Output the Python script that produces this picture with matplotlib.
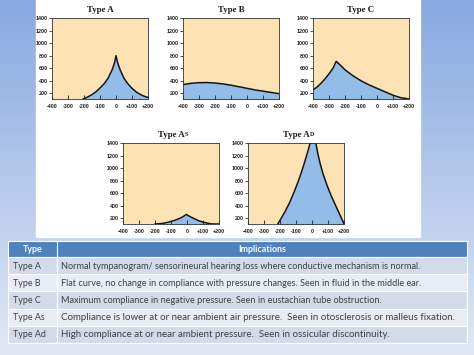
import numpy as np
import matplotlib.pyplot as plt
from matplotlib.patches import Rectangle

W, H = 474, 355

pressure_ticks = [-400, -300, -200, -100, 0, 100, 200]
pressure_labels = ['-400', '-300', '-200', '-100', '0', '+100', '+200']
compliance_ticks = [200, 400, 600, 800, 1000, 1200, 1400]

# tympanogram curves: pressure (daPa) vs compliance
type_a_x = [-205, -175, -150, -125, -100, -75, -50, -25, -10, 0, 10, 25, 50, 75, 100, 125, 150, 175, 200]
type_a_y = [110, 145, 180, 225, 285, 350, 440, 570, 680, 800, 690, 580, 440, 350, 280, 225, 185, 155, 135]

type_b_x = [-400, -350, -300, -250, -200, -150, -100, -50, 0, 50, 100, 150, 200]
type_b_y = [340, 360, 370, 372, 365, 350, 330, 305, 280, 255, 235, 215, 195]

type_c_x = [-400, -375, -350, -325, -300, -275, -255, -225, -200, -150, -100, -50, 0, 50, 100, 150, 200]
type_c_y = [255, 300, 360, 430, 510, 600, 710, 640, 575, 480, 400, 335, 280, 225, 170, 130, 110]

type_as_x = [-200, -150, -100, -75, -50, -25, -5, 25, 50, 75, 100, 125, 150, 175, 200]
type_as_y = [110, 120, 150, 170, 195, 225, 262, 220, 190, 160, 140, 125, 112, 110, 110]

type_ad_x = [-214, -195, -170, -140, -110, -80, -55, -35, -20, -12, 24, 35, 50, 70, 95, 120, 145, 170, 200]
type_ad_y = [110, 190, 300, 450, 630, 830, 1020, 1190, 1320, 1400, 1400, 1250, 1080, 900, 720, 560, 420, 280, 115]

table_types = ['Type A', 'Type B', 'Type C', 'Type As', 'Type Ad']
table_implications = [
    'Normal tympanogram/ sensorineural hearing loss where conductive mechanism is normal.',
    'Flat curve, no change in compliance with pressure changes. Seen in fluid in the middle ear.',
    'Maximum compliance in negative pressure. Seen in eustachian tube obstruction.',
    'Compliance is lower at or near ambient air pressure.  Seen in otosclerosis or malleus fixation.',
    'High compliance at or near ambient pressure.  Seen in ossicular discontinuity.',
]

PEACH = '#fde3b4'
BLUE = '#93bde8'
TICK_FONT = 'Liberation Sans'
TABLE_FONT = 'Lato'


def frac(x, y, w, h):
    # pixel box (top-left origin) -> figure fraction rect
    return [x / W, 1 - (y + h) / H, w / W, h / H]


fig = plt.figure(figsize=(W / 100, H / 100), dpi=100)

# slide background: blue gradient with a white panel behind the charts
bg = fig.add_axes([0, 0, 1, 1])
top = np.array([0.53, 0.66, 0.88])
bot = np.array([0.88, 0.91, 0.96])
t = np.linspace(0, 1, 256)[:, None]
grad = top * (1 - t) + bot * t
bg.imshow(np.repeat(grad[:, None, :], 2, axis=1), aspect='auto', extent=[0, W, H, 0])
bg.add_patch(Rectangle((36, 0), 384, 237, color='white'))
bg.set_xlim(0, W)
bg.set_ylim(H, 0)
bg.axis('off')


def tymp(box, xs, ys, title, small=None):
    ax = fig.add_axes(frac(*box))
    ax.set_facecolor(PEACH)
    ax.fill_between(xs, ys, 0, color=BLUE, lw=0, zorder=1)
    ax.plot(xs, ys, color='#151515', lw=1.1, zorder=3)
    ax.set_xlim(-400, 200)
    ax.set_ylim(110, 1400)
    ax.set_xticks(pressure_ticks)
    ax.set_xticklabels(pressure_labels)
    ax.set_yticks(compliance_ticks)
    ax.tick_params(axis='x', direction='in', length=3, width=0.7, pad=3.8,
                   labelsize=3.9, color='#333333', zorder=4)
    ax.tick_params(axis='y', direction='out', length=2.5, width=0.6, pad=0.6,
                   labelsize=3.9, color='#333333')
    for lab in ax.get_xticklabels() + ax.get_yticklabels():
        lab.set_fontweight('bold')
        lab.set_family(TICK_FONT)
        lab.set_color('#222222')
    for s in ax.spines.values():
        s.set_linewidth(0.6)
        s.set_color('#333333')
        s.set_zorder(5)
    tt = ax.set_title(title, fontsize=6.4, fontweight='bold', family='Liberation Serif',
                      pad=4.2, color='#1a1a1a')
    if small:
        ax.annotate(small, xy=(1, 0), xycoords=tt, xytext=(0.2, 1.4), textcoords='offset points',
                    fontsize=4.4, fontweight='bold', family='Liberation Serif',
                    color='#1a1a1a', ha='left', va='bottom')
    return ax


tymp((52, 18, 96, 81), type_a_x, type_a_y, 'Type A')
tymp((183, 18, 96, 81), type_b_x, type_b_y, 'Type B')
tymp((313, 18, 96, 81), type_c_x, type_c_y, 'Type C')
tymp((123, 143, 96, 81), type_as_x, type_as_y, 'Type A', 'S')
tymp((248, 143, 96, 81), type_ad_x, type_ad_y, 'Type A', 'D')

# implications table
tab = fig.add_axes([0, 0, 1, 1])
tab.set_xlim(0, W)
tab.set_ylim(H, 0)
tab.axis('off')
x0, x1, x2 = 8, 57, 467
y_head, y_body, row_h = 241, 257, 17.2
tab.add_patch(Rectangle((x0, y_head), x2 - x0, y_body - y_head, facecolor='#4f81bd',
                        edgecolor='white', lw=0.8))
tab.plot([x1, x1], [y_head, y_body], color='white', lw=0.8)
tab.text((x0 + x1) / 2, (y_head + y_body) / 2 + 0.5, 'Type', color='white', fontsize=6.4,
         fontweight='bold', family=TABLE_FONT, ha='center', va='center')
tab.text((x1 + x2) / 2, (y_head + y_body) / 2 + 0.5, 'Implications', color='white', fontsize=6.4,
         fontweight='bold', family=TABLE_FONT, ha='center', va='center')
for i, (typ, imp) in enumerate(zip(table_types, table_implications)):
    y = y_body + i * row_h
    fc = '#d3dbea' if i % 2 == 0 else '#e8ecf4'
    # the last two rows of the original use a slightly wider face
    fs = 7.0 if i >= 3 else 6.6
    tab.add_patch(Rectangle((x0, y), x1 - x0, row_h, facecolor=fc, edgecolor='white', lw=0.8))
    tab.add_patch(Rectangle((x1, y), x2 - x1, row_h, facecolor=fc, edgecolor='white', lw=0.8))
    tab.text(x0 + 5, y + row_h / 2 + 0.5, typ, color='#404040', fontsize=6.4,
             family=TABLE_FONT, ha='left', va='center')
    tab.text(x1 + 4, y + row_h / 2 + 0.5, imp, color='#404040', fontsize=fs,
             family=TABLE_FONT, ha='left', va='center')

fig.savefig('out.png', dpi=100)
